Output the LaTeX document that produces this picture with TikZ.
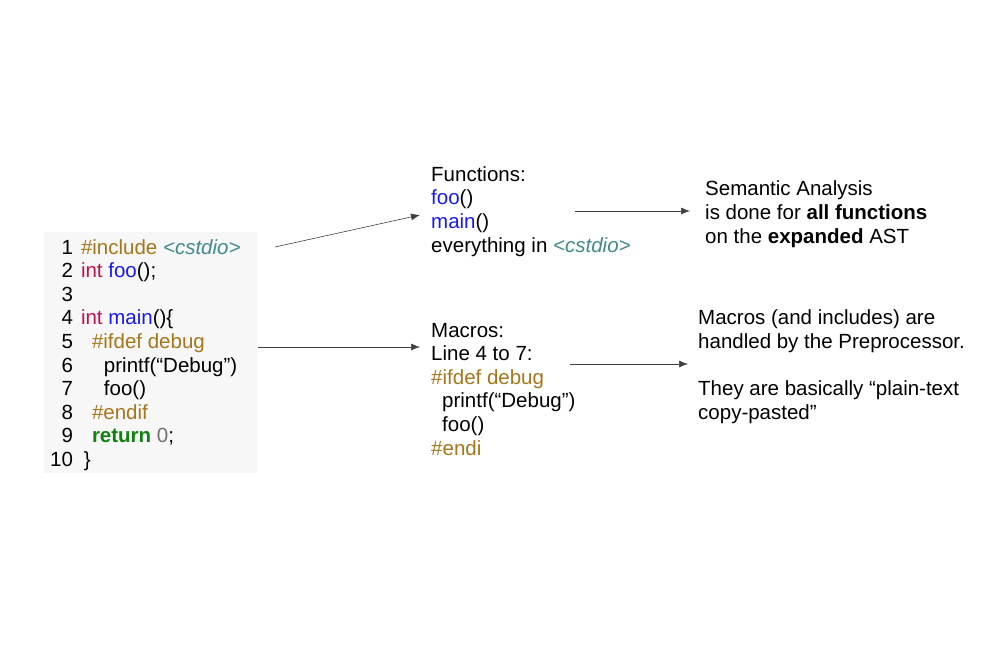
\documentclass[tikz,border=0pt]{standalone}
\usepackage{fontspec}
\setmainfont{Liberation Sans}
\usetikzlibrary{arrows.meta}
\definecolor{pporange}{HTML}{A5761A}
\definecolor{ppteal}{HTML}{408A8C}
\definecolor{ppkey}{HTML}{C0104E}
\definecolor{ppfun}{HTML}{1A1AEE}
\definecolor{ppret}{HTML}{108010}
\definecolor{ppnum}{HTML}{707070}
\definecolor{codebg}{HTML}{F7F7F7}
\newcommand{\pre}[1]{\textcolor{pporange}{#1}}
\newcommand{\hdr}[1]{\textcolor{ppteal}{\textit{#1}}}
\newcommand{\fn}[1]{\textcolor{ppfun}{#1}}
\tikzset{
  txt/.style={anchor=base west, inner sep=0pt, align=left,
    font=\fontsize{20.5}{23.6}\selectfont},
  link/.style={draw=black!75, line width=0.6pt, -{Latex[length=9pt,width=7pt]}}
}
\begin{document}
\begin{tikzpicture}[x=1pt,y=-1pt]
\useasboundingbox (0,0) rectangle (1000,666);
	%code box
		\fill[codebg] (44,232) rectangle (257,473);
		\node[txt] (code) at (50,254) {\begin{tabular}[t]{@{}r@{\hspace{8pt}}l@{}}
			1 & \pre{\#include} \hdr{<cstdio>}\\
			2 & \textcolor{ppkey}{int} \fn{foo}();\\
			3 & \\
			4 & \textcolor{ppkey}{int} \fn{main}()\{\\
			5 & \hspace{11pt}\pre{\#ifdef debug}\\
			6 & \hspace{23pt}printf(“Debug”)\\
			7 & \hspace{23pt}foo()\\
			8 & \hspace{11pt}\pre{\#endif}\\
			9 & \hspace{11pt}\textcolor{ppret}{\textbf{return}} \textcolor{ppnum}{0};\\
			10 & \hspace{3pt}\}
		\end{tabular}};
	%middle column
		\node[txt] (funcs) at (431,252) {Functions:\\ \fn{foo}()\\ \fn{main}()\\
			everything in \hdr{<cstdio>}};
		\node[txt] (macros) at (431,455) {Macros:\\ Line 4 to 7:\\ \pre{\#ifdef debug}\\
			\hspace{11pt}printf(“Debug”)\\ \hspace{11pt}foo()\\ \pre{\#endi}};
	%right column
		\node[txt] (sema) at (705,243) {Semantic Analysis\\ is done for \textbf{all functions}\\
			on the \textbf{expanded} AST};
		\node[txt] (prepro) at (698,419) {Macros (and includes) are\\ handled by the Preprocessor.\\[23.6pt]
			They are basically “plain-text\\ copy-pasted”};
	%arrows
		\coordinate (c1) at (275,247);
		\coordinate (f1) at (420,215);
		\coordinate (c2) at (258,347);
		\coordinate (m1) at (420,347);
		\coordinate (f2) at (575,211);
		\coordinate (s1) at (690,211);
		\coordinate (m2) at (570,364);
		\coordinate (p1) at (688,364);
		\draw[link] (c1) -- (f1);
		\draw[link] (c2) -- (m1);
		\draw[link] (f2) -- (s1);
		\draw[link] (m2) -- (p1);
\end{tikzpicture}
\end{document}
